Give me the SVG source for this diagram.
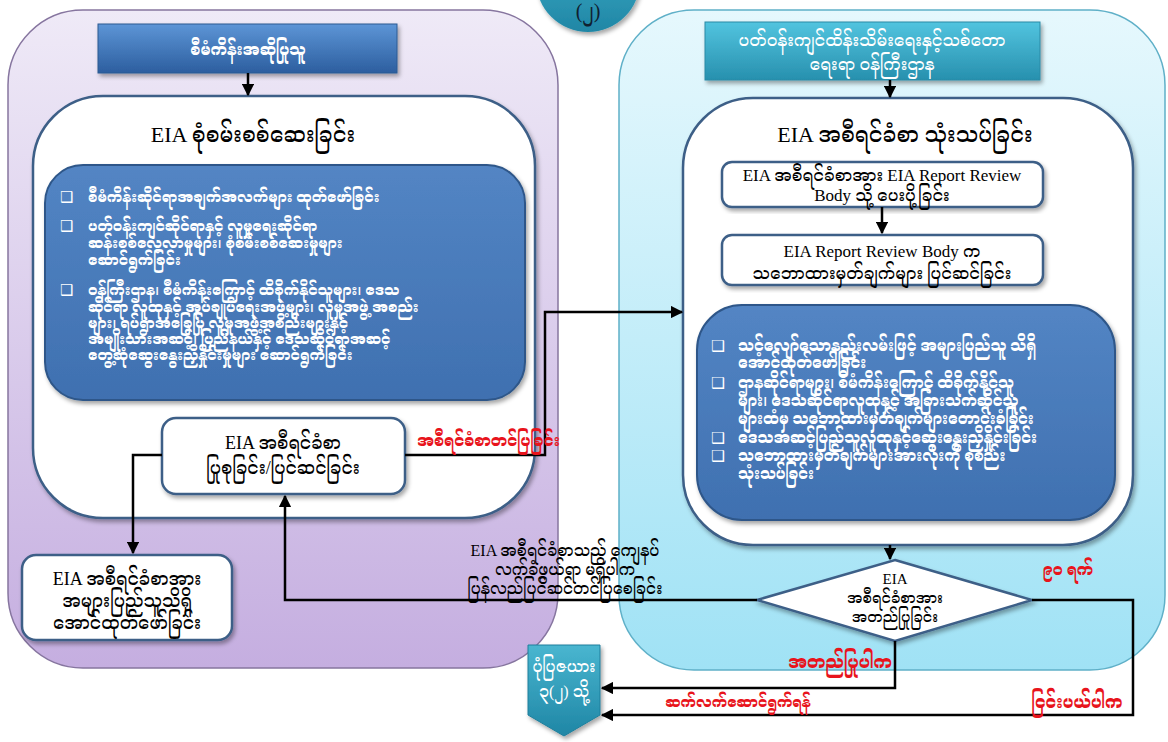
<svg xmlns="http://www.w3.org/2000/svg" width="1168" height="742" viewBox="0 0 1168 742">
<defs>
<linearGradient id="gPurple" x1="0" y1="0" x2="0" y2="1"><stop offset="0" stop-color="#efeaf7"/><stop offset="1" stop-color="#c5aee0"/></linearGradient>
<linearGradient id="gCyan" x1="0" y1="0" x2="0" y2="1"><stop offset="0" stop-color="#e6f8fd"/><stop offset="1" stop-color="#a0e2f5"/></linearGradient>
<linearGradient id="gBlueHead" x1="0" y1="0" x2="0" y2="1"><stop offset="0" stop-color="#5d95d6"/><stop offset="1" stop-color="#2c5e9f"/></linearGradient>
<linearGradient id="gTealHead" x1="0" y1="0" x2="0" y2="1"><stop offset="0" stop-color="#52c4df"/><stop offset="1" stop-color="#2790ae"/></linearGradient>
<linearGradient id="gBlueBox" x1="0" y1="0" x2="0" y2="1"><stop offset="0" stop-color="#5385c4"/><stop offset="1" stop-color="#3f70b0"/></linearGradient>
<linearGradient id="gTeal" x1="0" y1="0" x2="0" y2="1"><stop offset="0" stop-color="#49b6d0"/><stop offset="1" stop-color="#1f86a5"/></linearGradient>
<filter id="sh" x="-10%" y="-10%" width="120%" height="125%"><feDropShadow dx="2" dy="3" stdDeviation="2" flood-color="#000" flood-opacity="0.35"/></filter>
<marker id="arr" viewBox="0 0 10 10" refX="9" refY="5" markerWidth="5" markerHeight="5" orient="auto-start-reverse"><path d="M0,0 L10,5 L0,10 z" fill="#000"/></marker>
<style>
.my{font-family:"Liberation Serif","Noto Serif Myanmar","Noto Sans Myanmar","Padauk","Myanmar Text",serif;}
.w{fill:#fff;}
.k{fill:#000;}
.r{fill:#e8141c;font-weight:bold;}
.b{font-weight:bold;}
.panelW{fill:#fff;stroke:#3d5f87;stroke-width:2.5;}
.box{fill:#fff;stroke:#3d5f87;stroke-width:2.5;}
.blue{fill:url(#gBlueBox);stroke:#2e5789;stroke-width:2;}
.ln{fill:none;stroke:#000;stroke-width:2.5;}
.bul{font-family:"DejaVu Sans",sans-serif;font-weight:normal;}
</style>
</defs>
<rect width="1168" height="742" fill="#fff"/>

<g id="stage-circle">
<circle cx="588" cy="-20" r="52" fill="url(#gTeal)" filter="url(#sh)"/>
<text class="my" x="588" y="18" font-size="20" text-anchor="middle" fill="#102030">(၂)</text>
</g>

<g id="panel-left">
<rect x="8" y="10" width="550" height="658" rx="75" fill="url(#gPurple)" stroke="#86759f" stroke-width="1.5"/>
</g>
<g id="panel-right">
<rect x="619" y="10" width="546" height="660" rx="75" fill="url(#gCyan)" stroke="#5fb0c8" stroke-width="1.5"/>
</g>

<g id="proponent">
<rect x="98" y="24" width="299" height="49" fill="url(#gBlueHead)" stroke="#2d5a92" stroke-width="1" filter="url(#sh)"/>
<text class="my w b" x="248" y="55" font-size="16" text-anchor="middle">စီမံကိန်းအဆိုပြုသူ</text>
</g>

<g id="ministry">
<rect x="705" y="22" width="335" height="58" fill="url(#gTealHead)" stroke="#2a8aa6" stroke-width="1" filter="url(#sh)"/>
<text class="my w" x="872" y="46" font-size="17" text-anchor="middle">ပတ်ဝန်းကျင်ထိန်းသိမ်းရေးနှင့်သစ်တော</text>
<text class="my w" x="872" y="70" font-size="17" text-anchor="middle">ရေးရာ ဝန်ကြီးဌာန</text>
</g>

<g id="eia-investigation">
<rect class="panelW" x="33" y="96" width="502" height="422" rx="70" filter="url(#sh)"/>
<text class="my k" x="253" y="142" font-size="22" text-anchor="middle">EIA စုံစမ်းစစ်ဆေးခြင်း</text>
</g>

<g id="investigation-tasks">
<rect class="blue" x="45" y="165" width="480" height="235" rx="38" filter="url(#sh)"/>
<g class="my w b" font-size="15">
<text class="bul" x="60" y="202">❑</text>
<text x="88" y="202">စီမံကိန်းဆိုင်ရာအချက်အလက်များ ထုတ်ဖော်ခြင်း</text>
<text class="bul" x="60" y="231">❑</text>
<text x="88" y="231">ပတ်ဝန်းကျင်ဆိုင်ရာနှင့် လူမှုရေးဆိုင်ရာ</text>
<text x="88" y="248">ဆန်းစစ်လေ့လာမှုများ၊ စုံစမ်းစစ်ဆေးမှုများ</text>
<text x="88" y="265">ဆောင်ရွက်ခြင်း</text>
<text class="bul" x="60" y="295">❑</text>
<text x="88" y="295">ဝန်ကြီးဌာန၊ စီမံကိန်းကြောင့် ထိခိုက်နိုင်သူများ၊ ဒေသ</text>
<text x="88" y="312">ဆိုင်ရာ လူထုနှင့် အုပ်ချုပ်ရေးအဖွဲ့များ၊ လူမှုအဖွဲ့ အစည်း</text>
<text x="88" y="328">များ၊ ရပ်ရွာအခြေပြု လူမှုအဖွဲ့အစည်းများနှင့်</text>
<text x="88" y="344">အမျိုးသားအဆင့်၊ ပြည်နယ်နှင့် ဒေသဆိုင်ရာအဆင့်</text>
<text x="88" y="360">တွေ့ဆုံဆွေးနွေးညှိနှိုင်းမှုများ ဆောင်ရွက်ခြင်း</text>
</g>
</g>

<g id="eia-prepare">
<rect class="box" x="162" y="418" width="243" height="76" rx="14" filter="url(#sh)"/>
<text class="my k" x="283" y="449" font-size="18" text-anchor="middle">EIA အစီရင်ခံစာ</text>
<text class="my k" x="283" y="474" font-size="18" text-anchor="middle">ပြုစုခြင်း/ပြင်ဆင်ခြင်း</text>
</g>

<g id="eia-disclose">
<rect class="box" x="22" y="555" width="210" height="85" rx="14" filter="url(#sh)"/>
<text class="my k" x="127" y="585" font-size="18" text-anchor="middle">EIA အစီရင်ခံစာအား</text>
<text class="my k" x="127" y="607" font-size="18" text-anchor="middle">အများပြည်သူသိရှိ</text>
<text class="my k" x="127" y="629" font-size="18" text-anchor="middle">အောင်ထုတ်ဖော်ခြင်း</text>
</g>

<g id="eia-review">
<rect class="panelW" x="683" y="98" width="450" height="447" rx="70" filter="url(#sh)"/>
<text class="my k" x="905" y="142" font-size="22" text-anchor="middle">EIA အစီရင်ခံစာ သုံးသပ်ခြင်း</text>
</g>

<g id="send-to-body">
<rect class="box" x="722" y="162" width="321" height="45" rx="10" filter="url(#sh)"/>
<text class="my k" x="882" y="181" font-size="17" text-anchor="middle">EIA အစီရင်ခံစာအား EIA Report Review</text>
<text class="my k" x="882" y="201" font-size="17" text-anchor="middle">Body  သို့ ပေးပို့ခြင်း</text>
</g>

<g id="body-comments">
<rect class="box" x="722" y="235" width="321" height="50" rx="10" filter="url(#sh)"/>
<text class="my k" x="882" y="257" font-size="17" text-anchor="middle">EIA Report Review Body က</text>
<text class="my k" x="882" y="279" font-size="17" text-anchor="middle">သဘောထားမှတ်ချက်များ ပြင်ဆင်ခြင်း</text>
</g>

<g id="review-tasks">
<rect class="blue" x="697" y="305" width="418" height="215" rx="45" filter="url(#sh)"/>
<g class="my w b" font-size="15.5">
<text class="bul" x="711" y="351">❑</text>
<text x="738" y="351">သင့်လျော်သောနည်းလမ်းဖြင့် အများပြည်သူ သိရှိ</text>
<text x="738" y="368">အောင်ထုတ်ဖော်ခြင်း</text>
<text class="bul" x="711" y="388">❑</text>
<text x="738" y="388">ဌာနဆိုင်ရာများ၊ စီမံကိန်းကြောင့် ထိခိုက်နိုင်သူ</text>
<text x="738" y="406">များ၊ ဒေသဆိုင်ရာလူထုနှင့် အခြားသက်ဆိုင်သူ</text>
<text x="738" y="424">များထံမှ သဘောထားမှတ်ချက်များတောင်းခံခြင်း</text>
<text class="bul" x="711" y="443">❑</text>
<text x="738" y="443">ဒေသအဆင့်ပြည်သူလူထုနှင့်ဆွေးနွေးညှိနှိုင်းခြင်း</text>
<text class="bul" x="711" y="461">❑</text>
<text x="738" y="461">သဘောထားမှတ်ချက်များအားလုံးကို စုစည်း</text>
<text x="738" y="479">သုံးသပ်ခြင်း</text>
</g>
</g>

<g id="approve-decision">
<polygon points="895,560 1032,600 895,641 757,600" fill="#fff" stroke="#3d5f87" stroke-width="2.5" filter="url(#sh)"/>
<text class="my k" x="895" y="584" font-size="15" text-anchor="middle">EIA</text>
<text class="my k" x="895" y="603" font-size="15" text-anchor="middle">အစီရင်ခံစာအား</text>
<text class="my k" x="895" y="622" font-size="15" text-anchor="middle">အတည်ပြုခြင်း</text>
</g>

<g id="next-chart">
<polygon points="528,645 600,645 600,715 564,736 528,715" fill="url(#gTeal)" stroke="#1f7f9c" stroke-width="1" filter="url(#sh)"/>
<text class="my w" x="564" y="672" font-size="16" text-anchor="middle">ပုံပြဇယား</text>
<text class="my w" x="564" y="697" font-size="16" text-anchor="middle">၃(၂) သို့</text>
</g>

<g id="connectors">
<path class="ln" d="M248,73 V95" marker-end="url(#arr)"/>
<path class="ln" d="M890,80 V97" marker-end="url(#arr)"/>
<path class="ln" d="M882,207 V233" marker-end="url(#arr)"/>
<path class="ln" d="M890,545 V559" marker-end="url(#arr)"/>
<path class="ln" d="M405,455 H545 V312 H682" marker-end="url(#arr)"/>
<path class="ln" d="M162,455 H133 V553" marker-end="url(#arr)"/>
<path class="ln" d="M757,600 H285 V496" marker-end="url(#arr)"/>
<path class="ln" d="M895,641 V688 H602" marker-end="url(#arr)"/>
<path class="ln" d="M1032,600 H1133 V715 H602" marker-end="url(#arr)"/>
</g>

<g id="labels">
<text class="my r" x="417" y="446" font-size="16">အစီရင်ခံစာတင်ပြခြင်း</text>
<text class="my k" x="565" y="556" font-size="16" text-anchor="middle">EIA အစီရင်ခံစာသည် ကျေနပ်</text>
<text class="my k" x="565" y="575" font-size="16" text-anchor="middle">လက်ခံဖွယ်ရာ မရှိပါက</text>
<text class="my k" x="565" y="594" font-size="16" text-anchor="middle">ပြန်လည်ပြင်ဆင်တင်ပြစေခြင်း</text>
<text class="my r" x="1068" y="575" font-size="16" text-anchor="middle">၉၀ ရက်</text>
<text class="my r" x="840" y="668" font-size="18" text-anchor="middle">အတည်ပြုပါက</text>
<text class="my r" x="738" y="707" font-size="15" text-anchor="middle">ဆက်လက်ဆောင်ရွက်ရန်</text>
<text class="my r" x="1077" y="708" font-size="17" text-anchor="middle">ငြင်းပယ်ပါက</text>
</g>
</svg>
